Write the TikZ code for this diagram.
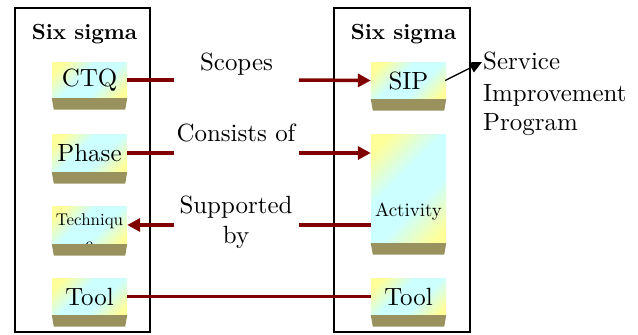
\documentclass[tikz,border=0pt]{standalone}
\usepackage{fontspec}
\setmainfont{lmroman10}[Extension=.otf, UprightFont=*-regular, BoldFont=*-bold, ItalicFont=*-italic, BoldItalicFont=*-bolditalic]
\usetikzlibrary{arrows.meta}

\definecolor{facecyan}{HTML}{CCFFFF}
\definecolor{faceyellow}{HTML}{FFFF99}
\definecolor{shadowolive}{RGB}{153,146,94}
\definecolor{linkred}{HTML}{800000}

% yellow corners, cyan band across the middle
\pgfdeclarehorizontalshading{facegrad}{100bp}{%
  color(0bp)=(faceyellow); color(22bp)=(faceyellow);
  color(42bp)=(facecyan); color(60bp)=(facecyan);
  color(80bp)=(faceyellow); color(100bp)=(faceyellow)}

% olive bevel under a face
\newcommand\boxshadow[1]{%
  \fill[shadowolive] (#1.south west) -- (#1.south east)
    -- ([xshift=-2bp,yshift=-11.5bp]#1.south east)
    -- ([xshift=2bp,yshift=-11.5bp]#1.south west) -- cycle;}

\tikzset{
  bigtext/.style={font=\fontsize{25}{30}\selectfont},
  headtext/.style={font=\bfseries\fontsize{22}{30}\selectfont},
  frame/.style={draw=black, line width=1.6bp, inner sep=0pt},
  facebox/.style={rectangle, inner sep=0pt, minimum width=75bp,
    shading=facegrad, shading angle=-45, bigtext},
  link/.style={draw=linkred, line width=3.5bp},
  linkhead/.style={-{Triangle[length=13bp,width=13bp]}},
  label/.style={bigtext, anchor=base, inner sep=0pt},
}

\begin{document}
\begin{tikzpicture}[x=1bp,y=-1bp]
\useasboundingbox (0,0) rectangle (638,334);

% the two "Six sigma" frames
\node[frame, minimum width=135bp, minimum height=324bp] (leftframe) at (82.5,170) {};
\node[frame, minimum width=136bp, minimum height=324bp] (rightframe) at (402,170) {};
\node[label, headtext] (lefthead) at (84.5,39) {Six sigma};
\node[label, headtext] (righthead) at (403.5,39) {Six sigma};

% left column
\node[facebox, minimum height=36bp] (ctq) at (89.5,80) {CTQ};
\node[facebox, minimum height=38bp] (phase) at (89.5,153) {Phase};
\node[facebox, minimum height=38bp] (tech) at (89.5,225) {};
\begin{scope}
  \clip (tech.south west) rectangle (tech.north east);
  \node[anchor=base, inner sep=0pt, font=\fontsize{17}{21}\selectfont] (techa) at (89.5,225) {Techniqu};
  \node[anchor=base, inner sep=0pt, font=\fontsize{17}{21}\selectfont] (techb) at (89.5,249) {e};
\end{scope}
\node[facebox, minimum height=37bp] (toolleft) at (89.5,296.5) {Tool};

% right column
\node[facebox, minimum height=37bp] (sip) at (408.5,80.5) {SIP};
\node[facebox, minimum height=109bp] (activity) at (408.5,188.5) {};
\node[anchor=base, inner sep=0pt, font=\fontsize{19}{24}\selectfont] (acttext) at (408.5,216) {Activity};
\node[facebox, minimum height=37bp] (toolright) at (408.5,296.5) {Tool};

\foreach \b in {ctq,phase,tech,toolleft,sip,activity,toolright}{\boxshadow{\b}}

% connector labels
\node[label] (scopes) at (236.5,70) {Scopes};
\node[label] (consists) at (236,141) {Consists of};
\node[label] (supported) at (236,213) {Supported};
\node[label] (by) at (236,243) {by};

% free ends of the broken connectors
\coordinate (s1) at (174,80);
\coordinate (s2) at (299,80);
\coordinate (c1) at (174,153);
\coordinate (c2) at (299,153);
\coordinate (p1) at (174,225);
\coordinate (p2) at (299,225);

\draw[link] (ctq.east) -- (s1);
\draw[link, linkhead] (s2) -- (sip.west);
\draw[link] (phase.east) -- (c1);
\draw[link, linkhead] (c2) -- (activity.west |- c2);
\draw[link] (activity.west |- p2) -- (p2);
\draw[link, linkhead] (p1) -- (tech.east);
\draw[link] (toolleft.east) -- (toolright.west);

% SIP expansion
\node[anchor=base west, inner sep=0pt, bigtext] (svc1) at (483,69) {Service};
\node[anchor=base west, inner sep=0pt, bigtext] (svc2) at (483,101) {Improvement};
\node[anchor=base west, inner sep=0pt, bigtext] (svc3) at (483,130) {Program};
\coordinate (svctip) at (482,62);
\draw[line width=1.3bp, -{Triangle[length=12bp,width=11bp]}] ([xshift=-1bp]sip.east) -- (svctip);
\end{tikzpicture}
\end{document}
